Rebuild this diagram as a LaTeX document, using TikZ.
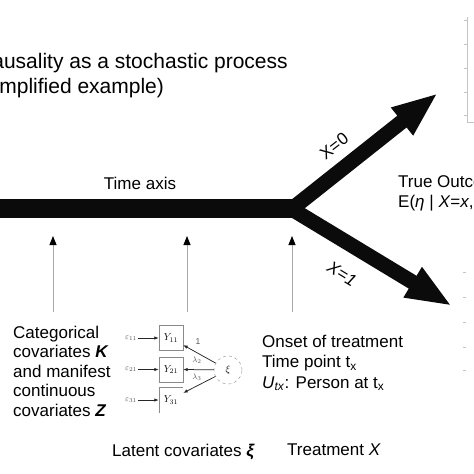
\documentclass[tikz,border=0pt]{standalone}
\usepackage[no-math]{fontspec}
\setmainfont{Liberation Sans}
\usetikzlibrary{arrows.meta,positioning}
\definecolor{axisBlack}{HTML}{0B0B0B}
\definecolor{pointerGray}{HTML}{A8A8A8}
\definecolor{semGray}{HTML}{8A8A8A}
\definecolor{plotGray}{HTML}{C4C4C4}

\tikzset{
  txt/.style={anchor=base west,inner sep=0pt,align=left,font=\fontsize{17}{19.5}\selectfont},
  pointer/.style={draw=pointerGray,line width=0.8pt,-{Triangle[length=9pt,width=7pt,black]}},
  bigarrow/.style={draw=axisBlack,line width=15pt,-{Triangle[length=46pt,width=32pt]}},
  ybox/.style={draw=semGray,minimum width=24pt,minimum height=25pt,inner sep=0pt,font=\fontsize{10}{12}\selectfont},
  semlabel/.style={inner sep=1pt,font=\fontsize{8.5}{10}\selectfont,text=semGray!60!black},
  semarrow/.style={draw=black!85,line width=0.75pt,-{Latex[length=4.5pt,width=3.5pt]}},
}

\begin{document}
\begin{tikzpicture}[x=1pt,y=-1pt]
  \useasboundingbox (0,0) rectangle (474,474);
  \clip (0,0) rectangle (474,474);

  % title, cut at the left edge
  \node[txt,font=\fontsize{21}{25}\selectfont] (title) at (-23,93) {Causality as a stochastic process\\(simplified example)};

  % time axis and the two branches
  \coordinate (origin) at (-5,208);
  \coordinate (split) at (292,208);
  \coordinate (forkUp) at (293,208);
  \coordinate (forkDown) at (290,208);
  \coordinate (upTip) at (438,93);
  \coordinate (downTip) at (452,306);
  \draw[axisBlack,line width=19pt] (origin) -- (split);
  \draw[bigarrow] (forkUp) -- (upTip);
  \draw[bigarrow] (forkDown) -- (downTip);
  \node[txt,anchor=base] (timeLabel) at (140,189) {Time axis};
  \node[font=\fontsize{17}{19.5}\selectfont,rotate=38,inner sep=0pt] (xZero) at (334,146) {X=0};
  \node[font=\fontsize{17}{19.5}\selectfont\itshape,rotate=-31.5,inner sep=0pt] (xOne) at (342,274) {X=1};
  \node[txt,font=\fontsize{17}{20}\selectfont] (outcome) at (398,207) {True Outcome\\E(\textit{η} | \textit{X}=\textit{x},};

  % pointers onto the axis
  \foreach \px/\nm in {53/cov,187/lat,292/treat} {
    \coordinate (\nm Low) at (\px,312);
    \coordinate (\nm High) at (\px,236);
    \draw[pointer] (\nm Low) -- (\nm High);
  }

  % covariates
  \node[txt] (covs) at (13,416) {Categorical\\covariates \textbf{\textit{K}}\\and manifest\\continuous\\covariates \textbf{\textit{Z}}};

  % measurement model
  \node[ybox] (y11) at (171,338) {$Y_{11}$};
  \node[ybox] (y21) at (171,369.5) {$Y_{21}$};
  \node[ybox,draw=none] (y31) at (171,400) {$Y_{31}$};
  \draw[semGray] (y31.south west) -- (y31.north west) -- (y31.north east);
  \node[draw=semGray,dashed,circle,minimum size=28pt,inner sep=0pt] (xi) at (228,370) {$\xi$};
  \node[semlabel] (e11) at (131,338) {$\varepsilon_{11}$};
  \node[semlabel] (e21) at (131,369.5) {$\varepsilon_{21}$};
  \node[semlabel] (e31) at (131,400) {$\varepsilon_{31}$};
  \draw[semarrow] (e11) -- (y11);
  \draw[semarrow] (e21) -- (y21);
  \draw[semarrow] (e31) -- (y31);
  \draw[semarrow] (xi) -- (y11.-30);
  \draw[semarrow] (xi) -- (y21.east);
  \draw[semarrow] (xi) -- (y31.30);
  \node[semlabel] (l1) at (198,342) {1};
  \node[semlabel] (l2) at (197,360) {$\lambda_2$};
  \node[semlabel] (l3) at (197,377) {$\lambda_3$};

  % treatment
  \node[txt,font=\fontsize{17}{20.5}\selectfont] (onset) at (262,388) {Onset of treatment\\Time point t\textsubscript{x}\\\textit{U}\textsubscript{\textit{tx}}: Person at t\textsubscript{x}};

  \node[txt] (latent) at (112,456) {Latent covariates \textbf{\textit{ξ}}};
  \node[txt] (treatment) at (287,455) {Treatment \textit{X}};

  % plots at the right edge
  \draw[plotGray,line width=0.6pt] (467,17) -- (467,122) -- (480,122);
  \foreach \ty in {20,44,68,92,115} \draw[plotGray,line width=0.6pt] (464,\ty) -- (467,\ty);
  \foreach \ty in {272,297,322,347,370} \draw[plotGray,line width=0.6pt] (463,\ty) -- (466,\ty);
\end{tikzpicture}
\end{document}
